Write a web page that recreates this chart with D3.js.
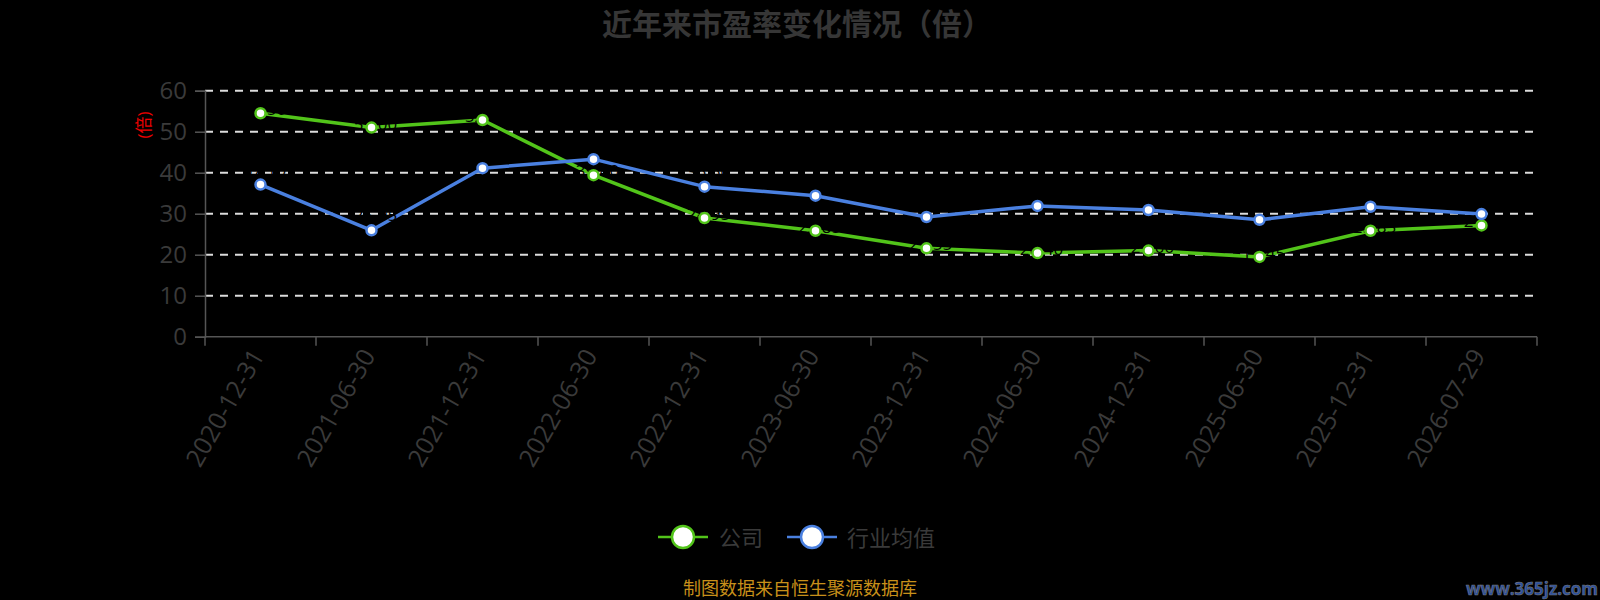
<!DOCTYPE html>
<html>
<head>
<meta charset="utf-8">
<script src="https://cdn.jsdelivr.net/npm/d3@7"></script>
<style>
  body { margin: 0; background: #000; }
  svg { display: block; }
  text { font-family: "Open Sans", "Noto Sans CJK SC", sans-serif; }
</style>
</head>
<body>
<svg width="1600" height="600"></svg>
<script>
const dates = ["2020-12-31", "2021-06-30", "2021-12-31", "2022-06-30", "2022-12-31", "2023-06-30",
  "2023-12-31", "2024-06-30", "2024-12-31", "2025-06-30", "2025-12-31", "2026-07-29"];
const company = [54.5, 51.0, 52.85, 39.4, 28.95, 25.85, 21.55, 20.4, 21.0, 19.45, 25.85, 27.15];
const industry = [37.1, 25.95, 41.1, 43.3, 36.6, 34.4, 29.2, 31.9, 30.9, 28.5, 31.7, 29.9];
const yTicks = [0, 10, 20, 30, 40, 50, 60];

const series = [
  { name: "公司", values: company, color: "#52c41a", labelDy: 2 },
  { name: "行业均值", values: industry, color: "#4a80e0", labelDy: -9 }
];

const plotLeft = 205, plotRight = 1537, plotTop = 90.7, plotBottom = 336.7;

const svg = d3.select("svg");
svg.append("rect").attr("width", 1600).attr("height", 600).attr("fill", "#000");

const x = d3.scaleBand().domain(dates).range([plotLeft, plotRight]);
const y = d3.scaleLinear().domain([0, 60]).range([plotBottom, plotTop]);

// title
svg.append("text")
  .attr("x", 797).attr("y", 35)
  .attr("text-anchor", "middle")
  .attr("font-size", 30).attr("font-weight", "bold")
  .attr("fill", "#363636")
  .attr("font-family", "'Noto Sans CJK SC', sans-serif")
  .text("近年来市盈率变化情况（倍）");

// grid
svg.append("g")
  .selectAll("line")
  .data(yTicks.filter(d => d > 0))
  .join("line")
  .attr("x1", plotLeft).attr("x2", plotRight)
  .attr("y1", d => y(d)).attr("y2", d => y(d))
  .attr("stroke", "#dcdcdc").attr("stroke-width", 2)
  .attr("stroke-dasharray", "8,7");

// y axis
const yAxis = svg.append("g")
  .attr("transform", `translate(${plotLeft},0)`)
  .call(d3.axisLeft(y).tickValues(yTicks).tickSize(10).tickPadding(8));
yAxis.select(".domain").attr("stroke", "#555").attr("stroke-width", 1.5);
yAxis.selectAll(".tick line").attr("stroke", "#555").attr("stroke-width", 1.5);
yAxis.selectAll(".tick text")
  .attr("font-size", 24).attr("fill", "#3a3a3a")
  .attr("font-family", "'Open Sans', sans-serif");

// y axis name
svg.append("text")
  .attr("transform", "translate(143,125) rotate(-90)")
  .attr("text-anchor", "middle").attr("dominant-baseline", "central")
  .attr("font-size", 17).attr("fill", "#e00")
  .attr("font-family", "'Noto Sans CJK SC', sans-serif")
  .text("(倍)");

// x axis
const xAxisG = svg.append("g").attr("transform", `translate(0,${plotBottom})`);
xAxisG.append("line")
  .attr("x1", plotLeft).attr("x2", plotRight)
  .attr("stroke", "#555").attr("stroke-width", 1.5);
xAxisG.selectAll("line.tk")
  .data(dates.map(d => x(d)).concat([plotRight]))
  .join("line")
  .attr("class", "tk")
  .attr("x1", d => d).attr("x2", d => d)
  .attr("y1", 0).attr("y2", 9)
  .attr("stroke", "#555").attr("stroke-width", 1.5);
xAxisG.selectAll("text")
  .data(dates)
  .join("text")
  .attr("transform", d => `translate(${x(d) + x.bandwidth() / 2 - 4},14) rotate(-60)`)
  .attr("text-anchor", "end").attr("dominant-baseline", "central")
  .attr("font-size", 25).attr("fill", "#3a3a3a")
  .text(d => d);

// lines
const line = d3.line()
  .x((d, i) => x(dates[i]) + x.bandwidth() / 2)
  .y(d => y(d));

series.forEach(s => {
  svg.append("path")
    .datum(s.values)
    .attr("fill", "none")
    .attr("stroke", s.color)
    .attr("stroke-width", 3.5)
    .attr("stroke-linejoin", "round")
    .attr("d", line);
});

// data labels (black, as in the source)
series.forEach(s => {
  svg.append("g")
    .selectAll("text")
    .data(s.values)
    .join("text")
    .attr("x", (d, i) => x(dates[i]) + x.bandwidth() / 2 + 4)
    .attr("y", d => y(d) + s.labelDy)
    .attr("text-anchor", "middle")
    .attr("font-size", 17).attr("fill", "#000")
    .text(d => d.toFixed(2));
});

series.forEach(s => {
  svg.append("g")
    .selectAll("circle")
    .data(s.values)
    .join("circle")
    .attr("cx", (d, i) => x(dates[i]) + x.bandwidth() / 2)
    .attr("cy", d => y(d))
    .attr("r", 5)
    .attr("fill", "#fff")
    .attr("stroke", s.color)
    .attr("stroke-width", 2.5);
});

// legend
const legendItems = [
  { s: series[0], x0: 658, tx: 719 },
  { s: series[1], x0: 787, tx: 847 }
];
const lg = svg.append("g");
legendItems.forEach(it => {
  lg.append("line")
    .attr("x1", it.x0).attr("x2", it.x0 + 50)
    .attr("y1", 537).attr("y2", 537)
    .attr("stroke", it.s.color).attr("stroke-width", 2.5);
  lg.append("circle")
    .attr("cx", it.x0 + 25).attr("cy", 537).attr("r", 11)
    .attr("fill", "#fff").attr("stroke", it.s.color).attr("stroke-width", 2.5);
  lg.append("text")
    .attr("x", it.tx).attr("y", 537)
    .attr("dominant-baseline", "central")
    .attr("font-size", 22).attr("fill", "#3a3a3a")
    .attr("font-family", "'Noto Sans CJK SC', sans-serif")
    .text(it.s.name);
});

// source note
svg.append("text")
  .attr("x", 800).attr("y", 588)
  .attr("text-anchor", "middle").attr("dominant-baseline", "central")
  .attr("font-size", 18).attr("fill", "#c8901a")
  .attr("font-family", "'Noto Sans CJK SC', sans-serif")
  .text("制图数据来自恒生聚源数据库");

// watermark
svg.append("text")
  .attr("x", 1598).attr("y", 588)
  .attr("text-anchor", "end").attr("dominant-baseline", "central")
  .attr("font-size", 17).attr("font-weight", "bold")
  .attr("font-family", "'DejaVu Serif', serif")
  .attr("fill", "#2a4f9e").attr("stroke", "#777").attr("stroke-width", 0.6)
  .text("www.365jz.com");
</script>
</body>
</html>
